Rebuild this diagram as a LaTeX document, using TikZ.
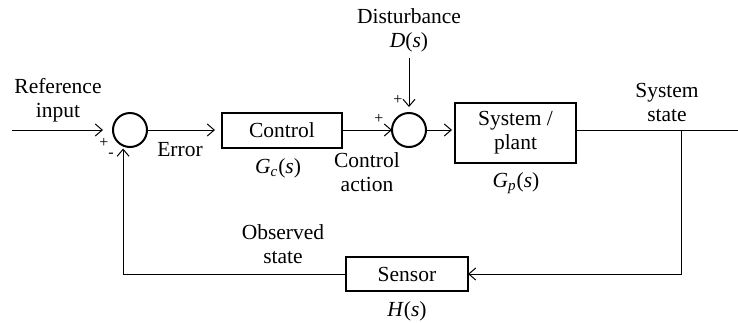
\documentclass[tikz,border=0pt]{standalone}
\usepackage{fontspec}
\setmainfont{Liberation Serif}
\usetikzlibrary{arrows.meta}

\begin{document}
\begin{tikzpicture}[x=0.5pt, y=-0.5pt, font=\fontsize{10.75}{12}\selectfont,
	block/.style={draw, line width=1pt, inner sep=0pt, outer sep=0pt, align=center},
	sum/.style={draw, circle, line width=1pt, minimum size=17pt, inner sep=0pt, outer sep=0pt},
	signal/.style={line width=0.5pt, -{Straight Barb[length=3.5pt, width=6pt]}},
	wire/.style={line width=0.5pt},
	lbl/.style={align=center, inner sep=0pt},
	sign/.style={inner sep=0pt, font=\fontsize{8}{9}\selectfont}]
	\useasboundingbox (0,0) rectangle (738,322);
	
	% Khối chính
	\node[sum] (sum1) at (130,130) {};
	\node[block, minimum width=60pt, minimum height=17.5pt] (control) at (282,130) {Control};
	\node[sum] (sum2) at (409,130) {};
	\node[block, minimum width=60.5pt, minimum height=30pt] (system) at (515.5,133) {System /\\plant};
	\node[block, minimum width=61pt, minimum height=17pt] (sensor) at (407,274) {Sensor};
	
	% Nhãn
	\node[lbl] (reflbl) at (58,100) {Reference\\input};
	\node[sign] (plus1) at (104,143) {+};
	\node[sign] (minus1) at (111,155) {-};
	\node[lbl] (errlbl) at (180,150) {Error};
	\node[lbl] (gclbl) at (278,168) {\textit{G}\textsubscript{\textit{c}}(\textit{s})};
	\node[lbl] (actlbl) at (367,172) {Control\\action};
	\node[sign] (plus2) at (379,119) {+};
	\node[sign] (plus3) at (398,100) {+};
	\node[lbl] (dist) at (409,30) {Disturbance\\\textit{D}(\textit{s})};
	\node[lbl] (gplbl) at (516,183) {\textit{G}\textsubscript{\textit{p}}(\textit{s})};
	\node[lbl] (statelbl) at (667,102) {System\\state};
	\node[lbl] (obslbl) at (283,244) {Observed\\state};
	\node[lbl] (hlbl) at (407,311) {\textit{H}(\textit{s})};
	
	% Đường tín hiệu
	\coordinate (refin) at (12,130);
	\coordinate (out) at (738,130);
	\coordinate (branch) at (681,130);
	\draw[signal, shorten >=5pt] (refin) -- (sum1);
	\draw[signal, shorten >=3.5pt] (sum1) -- (control);
	\draw[signal] (control) -- (sum2);
	\draw[signal, shorten <=3pt, shorten >=3pt] (dist) -- (sum2);
	\draw[signal, shorten >=1.5pt] (sum2) -- (sum2 -| system.west);
	\draw[wire] (system.east |- sum2) -- (out);
	\draw[signal] (branch) |- (sensor);
	\draw[signal, shorten >=1.5pt] (sensor) -| (sum1.-114);
	
\end{tikzpicture}
\end{document}
